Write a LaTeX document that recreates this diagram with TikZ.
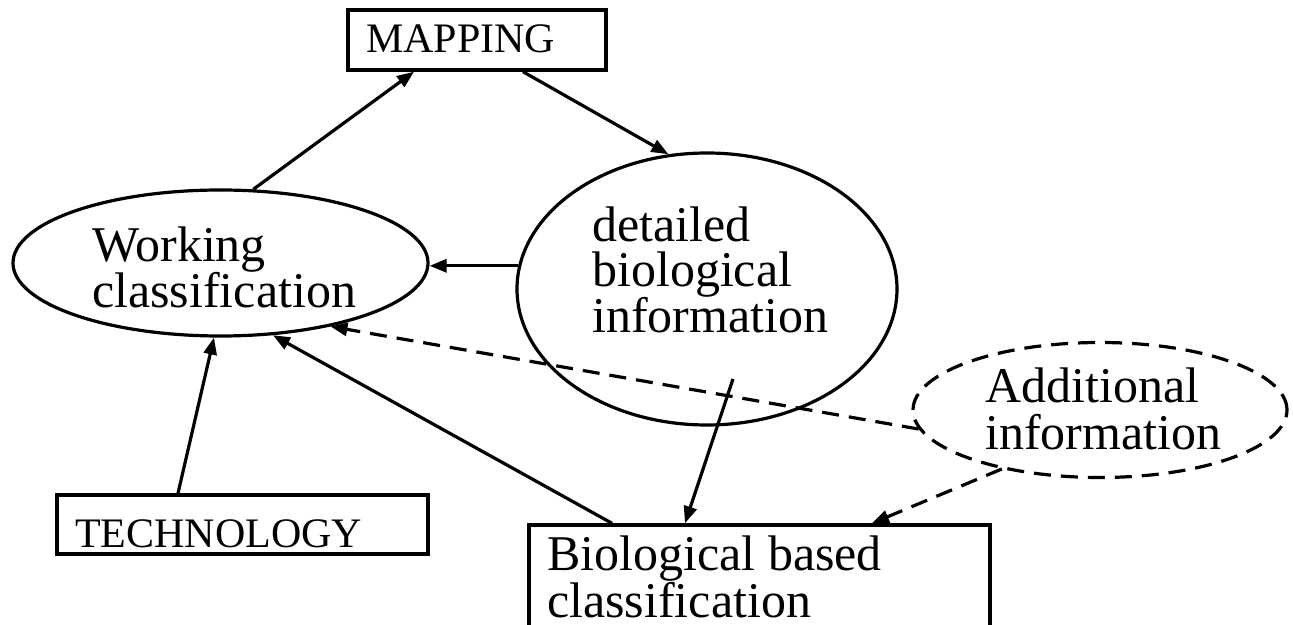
\documentclass[tikz,border=0pt]{standalone}
\usepackage{fontspec}
\setmainfont{Liberation Serif}
\usetikzlibrary{arrows.meta,calc,shapes.geometric}
\begin{document}
\begin{tikzpicture}[x=1pt,y=1pt,
  box/.style={draw, rectangle, inner sep=0pt, line width=3.4pt},
  ell/.style={draw, ellipse, inner sep=0pt, line width=3.2pt},
  arr/.style={-{Triangle[length=17pt,width=13pt]}, line width=3.2pt},
  dsh/.style={dash pattern=on 17pt off 10pt},
  lbl/.style={anchor=base west, inner sep=0pt, align=left},
  smallfont/.style={font=\fontsize{42}{48}\selectfont},
  bigfont/.style={font=\fontsize{50}{45}\selectfont}]
\clip (0,0) rectangle (1293,624);
% shapes
\node[box, minimum width=258pt, minimum height=60pt] (M) at (477,584) {};
\node[box, minimum width=371pt, minimum height=59pt] (T) at (242.5,99.5) {};
\node[box, minimum width=461pt, minimum height=120pt] (B) at (759.5,39) {};
\node[ell, minimum width=415pt, minimum height=146pt] (W) at (220.5,361) {};
\node[ell, minimum width=380pt, minimum height=272pt] (D) at (707,335) {};
\node[ell, dsh, minimum width=374pt, minimum height=135pt] (A) at (1100,214) {};
% texts (base anchor = last line's baseline)
\node[lbl, smallfont] (Mt) at (366,571) {MAPPING};
\node[lbl, smallfont] (Tt) at (75,77) {TECHNOLOGY};
\node[lbl, bigfont] (Wt) at (92,316) {Working\\classification};
\node[lbl, bigfont] (Dt) at (592,291) {detailed\\biological\\information};
\node[lbl, font=\fontsize{50}{47}\selectfont] (At) at (985,174) {Additional\\information};
\node[lbl, font=\fontsize{50}{40}\selectfont] (Bt) at (547,7) {Biological based\\classification};
% connectors
\draw[arr] (W.66) -- ([xshift=-63pt]M.south);
\draw[arr] ([xshift=46pt]M.south) -- (D.106.6);
\draw[arr] (D.173.3) -- (D.173.3 -| W.east);
\draw[arr] ([xshift=-64.5pt]T.north) -- (W.265.6);
\draw[arr] ([xshift=-147.5pt]B.north) -- (W.306);
\draw[arr] ($(D.center)+(26,-90)$) -- ([xshift=-74.5pt]B.north);
\draw[arr,dsh] (A.186) -- (W.330);
\draw[arr,dsh] (A.211) -- ([xshift=112.5pt]B.north);
\end{tikzpicture}
\end{document}
